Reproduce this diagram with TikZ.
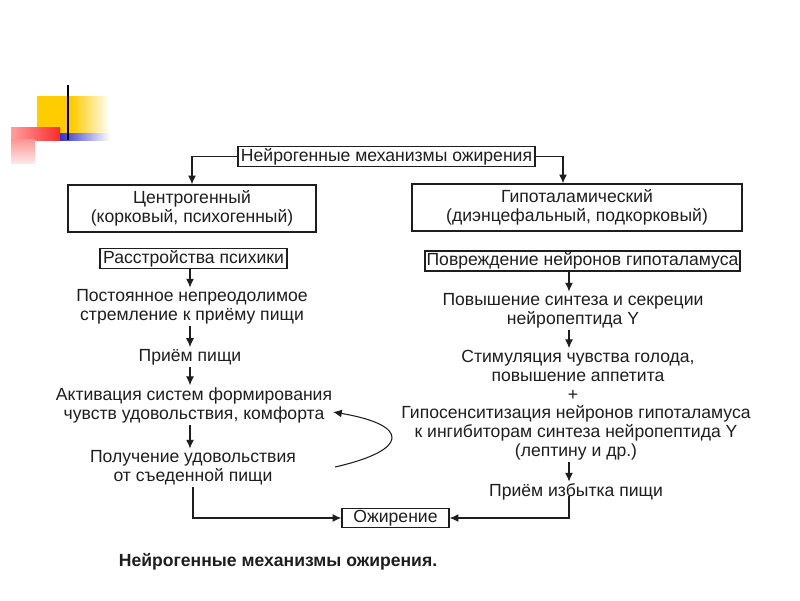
\documentclass[tikz,border=0pt]{standalone}
\usepackage{fontspec}
\setmainfont{Liberation Sans}
\usetikzlibrary{arrows.meta}
\definecolor{ink}{HTML}{1E1E1E}
\definecolor{tplyellow}{HTML}{FFCC00}
\definecolor{tplred}{HTML}{FF2A2A}
\definecolor{tplblue}{HTML}{3333CC}
\tikzset{
  box/.style={draw=ink, line width=0.8pt, inner sep=1pt, align=center},
  txt/.style={align=center, inner sep=1pt},
  arr/.style={-{Latex[length=5pt,width=4.5pt]}, line width=0.6pt, draw=ink}
}
\begin{document}
\begin{tikzpicture}[every node/.style={text=ink, font=\fontsize{10}{10.8}\selectfont}]
        \useasboundingbox (0,0) rectangle (16,-12);
        \fill[white] (0,0) rectangle (16,-12);
        %% template corner
        \fill[tplyellow] (0.74,-1.92) rectangle (1.45,-2.66);
        \shade[left color=tplyellow, right color=white] (1.44,-1.92) rectangle (2.2,-2.66);
        \shade[left color=tplred!45, right color=tplred] (0.22,-2.54) rectangle (1.2,-2.8);
        \shade[top color=tplred!50, bottom color=tplred!12] (0.22,-2.79) rectangle (0.7,-3.26);
        \shade[left color=tplblue, right color=white] (1.2,-2.66) rectangle (2.2,-2.8);
        \draw[line width=1.2pt, black] (1.36,-1.7) -- (1.36,-2.8);
        %% boxes
        \node[box, minimum width=5.94cm, minimum height=0.38cm] (mech) at (7.73,-3.13) {Нейрогенные механизмы ожирения};
        \node[box, minimum width=4.96cm, minimum height=0.94cm] (centro) at (3.84,-4.17) {Центрогенный\\(корковый, психогенный)};
        \node[box, minimum width=6.6cm, minimum height=0.94cm] (hypo) at (11.54,-4.15) {Гипоталамический\\(диэнцефальный, подкорковый)};
        \node[box, minimum width=3.74cm, minimum height=0.38cm] (psych) at (3.87,-5.17) {Расстройства психики};
        \node[box, minimum width=6.02cm, minimum height=0.4cm] (damage) at (11.65,-5.22) {Повреждение нейронов гипоталамуса};
        \node[box, minimum width=2.14cm, minimum height=0.36cm] (obesity) at (7.91,-10.36) {Ожирение};
        %% left column
        \node[txt] (urge) at (3.84,-6.14) {Постоянное непреодолимое\\стремление к приёму пищи};
        \node[txt] (intake) at (3.8,-7.14) {Приём пищи};
        \node[txt] (activ) at (3.88,-8.1) {Активация систем формирования\\чувств удовольствия, комфорта};
        \node[txt] (pleasure) at (3.86,-9.36) {Получение удовольствия\\от съеденной пищи};
        %% right column
        \node[txt] (synth) at (11.46,-6.22) {Повышение синтеза и секреции\\нейропептида Y};
        \node[txt] (hunger) at (11.56,-7.32) {Стимуляция чувства голода,\\повышение аппетита};
        \node[txt] (plus) at (11.46,-7.9) {+};
        \node[txt] (hypos) at (11.52,-8.66) {Гипосенситизация нейронов гипоталамуса\\к ингибиторам синтеза нейропептида Y\\(лептину и др.)};
        \node[txt] (excess) at (11.52,-9.84) {Приём избытка пищи};
        \node[font=\bfseries\fontsize{10}{12}\selectfont] (caption) at (5.56,-11.24) {Нейрогенные механизмы ожирения.};
        %% connectors
        \coordinate (laxis) at (3.8,0);
        \coordinate (raxis) at (11.38,0);
        \coordinate (hdrop) at (11.26,0);
        \draw[arr] (mech.west) -| (centro.north);
        \draw[arr] (mech.east) -| (hypo.north -| hdrop);
        \foreach \a/\b in {psych/urge, urge/intake, intake/activ, activ/pleasure}
          \draw[arr] (\a.south -| laxis) -- (\b.north -| laxis);
        \foreach \a/\b in {damage/synth, synth/hunger, hypos/excess}
          \draw[arr] (\a.south -| raxis) -- (\b.north -| raxis);
        \draw[arr] (pleasure.south) |- (obesity.west);
        \draw[arr] ([yshift=-2pt]excess.center -| raxis) |- (obesity.east);
        \coordinate (loopfrom) at (6.7,-9.34);
        \coordinate (loopto) at (6.66,-8.24);
        \draw[arr] (loopfrom) .. controls (8.2,-9.0) and (8.2,-8.5) .. (loopto);
      \end{tikzpicture}
\end{document}
